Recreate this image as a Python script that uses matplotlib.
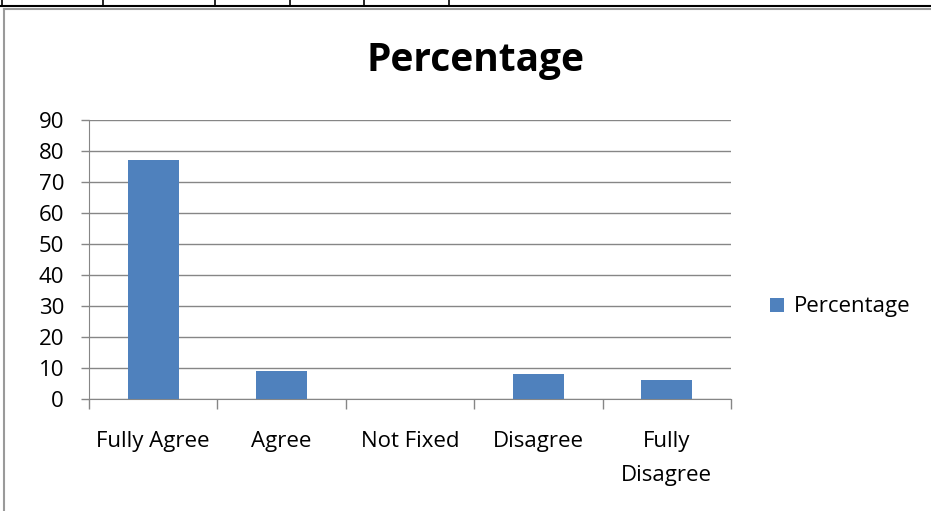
import matplotlib
matplotlib.use('Agg')
import matplotlib.pyplot as plt
from matplotlib.lines import Line2D

categories = ['Fully Agree', 'Agree', 'Not Fixed', 'Disagree', 'Fully\nDisagree']
values = [77, 9, 0, 8, 6]
yticks = [0, 10, 20, 30, 40, 50, 60, 70, 80, 90]

plt.rcParams['font.family'] = ['Open Sans', 'DejaVu Sans']

W, H = 931, 511
fig = plt.figure(figsize=(W / 100, H / 100), dpi=100)

def px(x, y):
	return x / W, 1 - y / H

# table fragment at the top
fig.add_artist(Line2D([0, 1], [px(0, 6.5)[1]] * 2, color='black', lw=1.5))
for x in [2, 103, 215, 290, 364, 449]:
	fig.add_artist(Line2D([x / W] * 2, [1, px(0, 6.5)[1]], color='black', lw=1.2))

# chart frame
fig.add_artist(Line2D([4 / W] * 2, [0, px(0, 9)[1]], color='#9a9a9a', lw=1.5))
fig.add_artist(Line2D([4 / W, 1], [px(0, 9)[1]] * 2, color='#9a9a9a', lw=1.5))

left, right = 89 / W, 731 / W
bottom, top = 1 - 399 / H, 1 - 120 / H
ax = fig.add_axes([left, bottom, right - left, top - bottom])

pos = list(range(len(categories)))
ax.bar(pos, values, width=0.4, color='#4F81BD', zorder=3, label='Percentage')
ax.set_xlim(-0.5, len(categories) - 0.5)
ax.set_ylim(0, 90)
ax.set_yticks(yticks)
ax.tick_params(axis='y', length=6, width=1, color='#868686', labelsize=16, pad=12)
ax.grid(axis='y', color='#868686', lw=1, zorder=0)

ax.set_xticks([p - 0.5 for p in pos] + [len(categories) - 0.5])
ax.set_xticklabels([])
ax.tick_params(axis='x', length=7, width=1, color='#868686')
for p, c in zip(pos, categories):
	ax.text(p, -10.4, c, ha='center', va='top', fontsize=16, linespacing=1.8)

for s in ['top', 'right']:
	ax.spines[s].set_visible(False)
for s in ['left', 'bottom']:
	ax.spines[s].set_color('#868686')

fig.text(px(476, 0)[0], px(0, 61)[1], 'Percentage', ha='center', va='center',
	fontsize=28, fontweight='bold')

leg = ax.legend(loc='center left', bbox_to_anchor=(1.03, 0.33), frameon=False,
	fontsize=16, handlelength=0.6, handleheight=0.6, handletextpad=0.45)

fig.savefig('out.png', dpi=100)
